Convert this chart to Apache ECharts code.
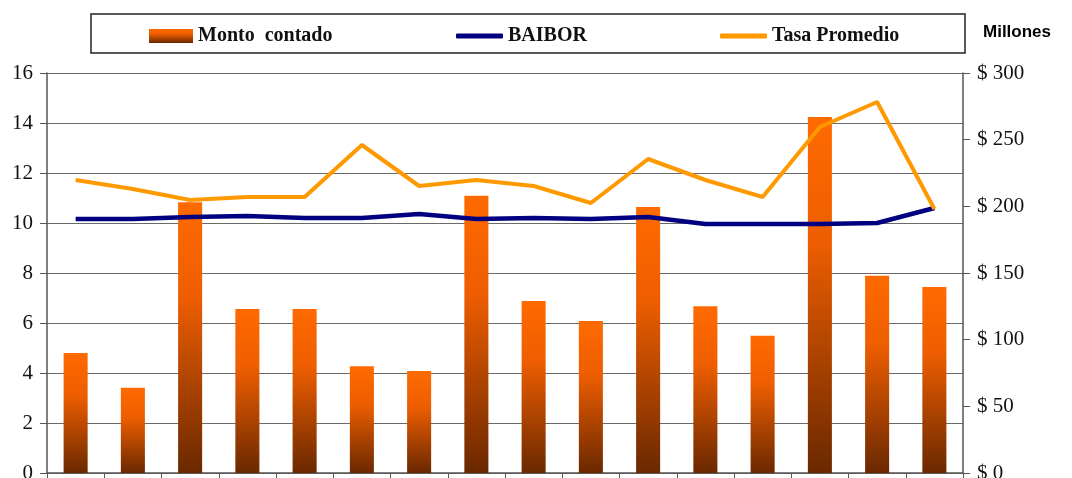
<!DOCTYPE html>
<html><head><meta charset="utf-8">
<script src="https://cdn.jsdelivr.net/npm/echarts@6/dist/echarts.min.js"></script>
<style>html,body{margin:0;padding:0;background:#fff}#c{width:1072px;height:478px}</style>
</head><body><div id="c"></div>
<script>
const categories = ['1','2','3','4','5','6','7','8','9','10','11','12','13','14','15','16'];
const montoContado = [90, 64, 203, 123, 123, 80, 76.5, 208, 129, 114, 199.5, 125, 103, 267, 148, 139.5];
const baibor = [10.16, 10.16, 10.24, 10.28, 10.2, 10.2, 10.36, 10.16, 10.2, 10.16, 10.24, 9.96, 9.96, 9.96, 10.0, 10.6];
const tasaPromedio = [11.72, 11.36, 10.92, 11.04, 11.04, 13.12, 11.48, 11.72, 11.48, 10.8, 12.56, 11.72, 11.04, 13.84, 14.84, 10.56];
const leftTicks = {min: 0, max: 16, interval: 2};
const rightTicks = {min: 0, max: 300, interval: 50};

const serif = '"Liberation Serif", "Times New Roman", serif';
const chart = echarts.init(document.getElementById('c'), null, {renderer: 'canvas'});
const legendText = {fontFamily: serif, fontWeight: 'bold', fontSize: 20, color: '#111'};
chart.setOption({
  animation: false,
  backgroundColor: '#fff',
  grid: {left: 47, right: 109, top: 73, bottom: 5, containLabel: false, outerBoundsMode: 'none'},
  legend: [
    {data: [{name: 'Monto  contado', icon: 'rect'}], left: 149, top: 26, padding: 0, itemWidth: 44, itemHeight: 14, textStyle: legendText, selectedMode: false},
    {data: [{name: 'BAIBOR', icon: 'roundRect'}], left: 456, top: 26, padding: 0, itemWidth: 47, itemHeight: 5, textStyle: legendText, selectedMode: false},
    {data: [{name: 'Tasa Promedio', icon: 'roundRect'}], left: 720, top: 26, padding: 0, itemWidth: 47, itemHeight: 5, textStyle: legendText, selectedMode: false}
  ],
  graphic: [
    {type: 'rect', shape: {x: 91, y: 14, width: 874, height: 39}, style: {fill: 'none', stroke: '#222', lineWidth: 1.5}, silent: true},
    {type: 'text', x: 983, y: 32, style: {text: 'Millones', font: 'bold 17px "Liberation Sans", Arial, sans-serif', fill: '#000', textVerticalAlign: 'middle'}}
  ],
  xAxis: {
    type: 'category', data: categories, boundaryGap: true,
    axisLine: {lineStyle: {color: '#555', width: 1.5}},
    axisTick: {show: true, length: 6, lineStyle: {color: '#555'}},
    axisLabel: {show: false}, splitLine: {show: false}
  },
  yAxis: [
    {type: 'value', min: leftTicks.min, max: leftTicks.max, interval: leftTicks.interval, position: 'left',
     axisLine: {show: true, lineStyle: {color: '#555', width: 1.5}},
     axisTick: {show: true, length: 7, lineStyle: {color: '#555'}},
     axisLabel: {fontFamily: serif, fontSize: 21, color: '#111', margin: 14},
     splitLine: {show: true, lineStyle: {color: '#6a6a6a', width: 1.2}}},
    {type: 'value', min: rightTicks.min, max: rightTicks.max, interval: rightTicks.interval, position: 'right',
     axisLine: {show: true, lineStyle: {color: '#555', width: 1.5}},
     axisTick: {show: true, length: 7, lineStyle: {color: '#555'}},
     axisLabel: {fontFamily: serif, fontSize: 21, color: '#111', margin: 14, formatter: v => '$ ' + v},
     splitLine: {show: false}}
  ],
  series: [
    {name: 'Monto  contado', type: 'bar', yAxisIndex: 1, data: montoContado, barWidth: '42%',
     itemStyle: {color: new echarts.graphic.LinearGradient(0, 0, 0, 1, [
       {offset: 0, color: '#FF6A00'}, {offset: 0.35, color: '#EE5E00'}, {offset: 1, color: '#6A2800'}])}},
    {name: 'BAIBOR', type: 'line', yAxisIndex: 0, data: baibor, symbol: 'none', showSymbol: false,
     lineStyle: {color: '#000080', width: 4.5}, itemStyle: {color: '#000080'}},
    {name: 'Tasa Promedio', type: 'line', yAxisIndex: 0, data: tasaPromedio, symbol: 'none', showSymbol: false,
     lineStyle: {color: '#FF9900', width: 4}, itemStyle: {color: '#FF9900'}}
  ]
});
</script></body></html>
